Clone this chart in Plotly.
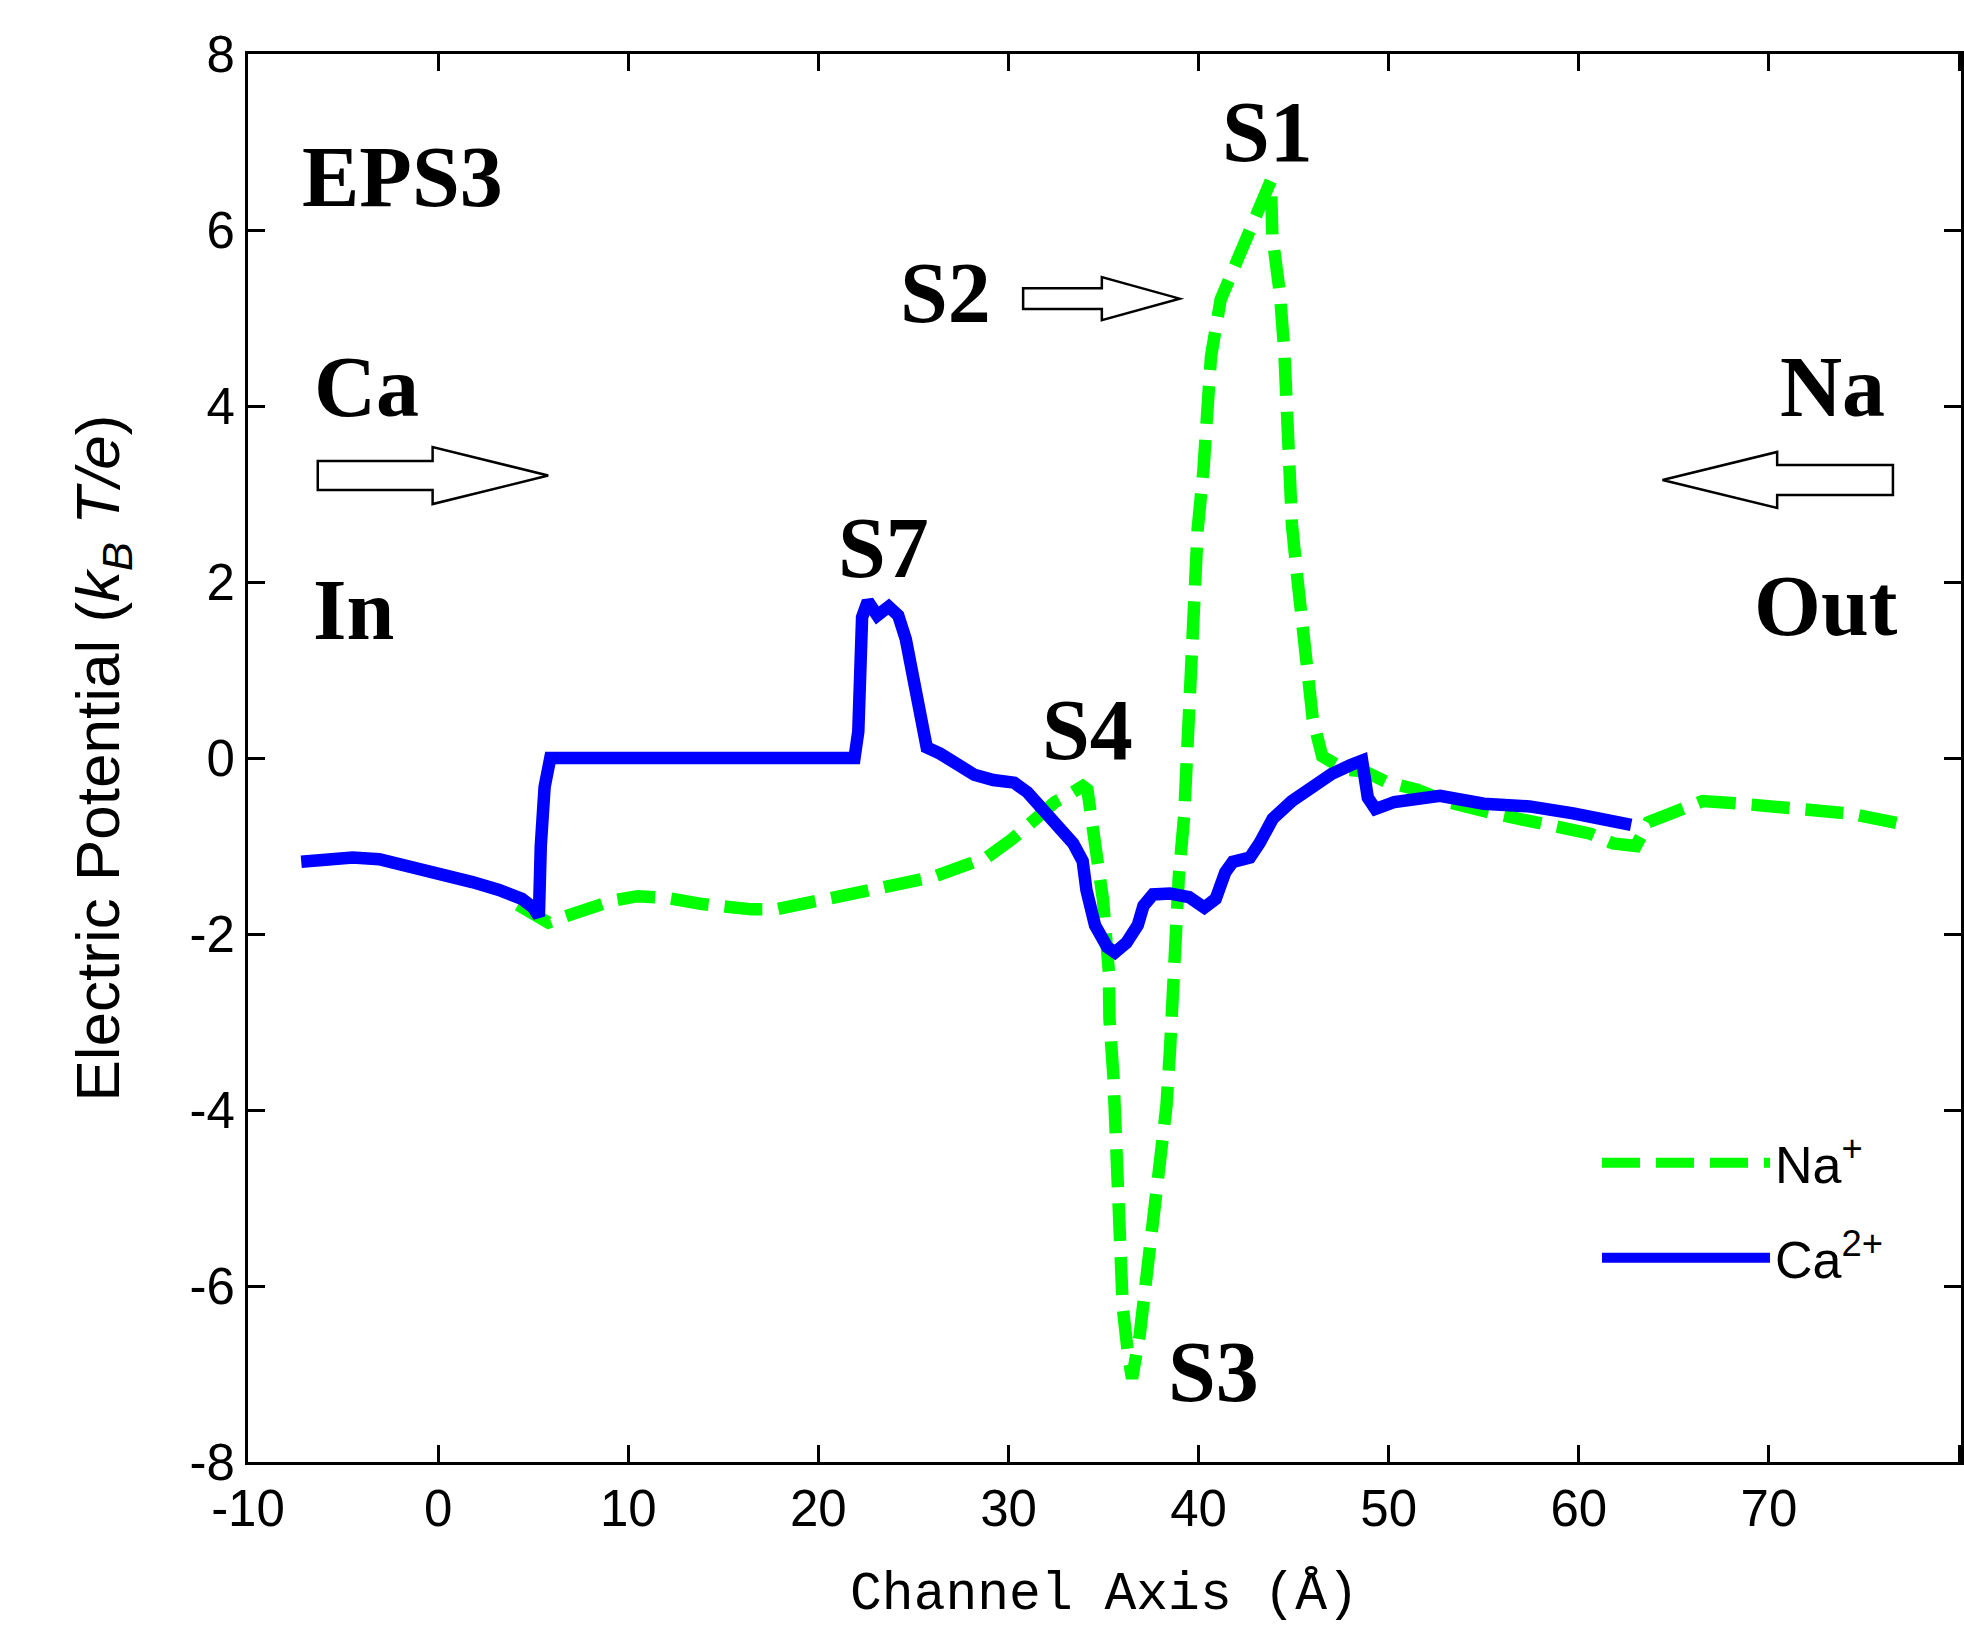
import plotly.graph_objects as go

# ---------------- data ----------------
na_x = [4.2, 4.9, 5.8, 6.4, 7.6, 9.2, 10.5, 12.05, 13.9, 15.0, 16.5, 17.75, 19.0, 20.5,
        23.2, 26.06, 28.87, 30.2, 31.58, 32.45, 33.3, 33.9, 34.15, 34.56, 34.97, 35.28,
        35.31, 35.52, 35.61, 35.78, 35.85, 36.01, 36.3, 36.5, 36.9, 37.26, 37.66, 38.07,
        38.31, 38.5, 38.66, 38.73, 38.96, 39.24, 39.36, 39.43, 39.55, 39.71, 39.95, 40.25,
        40.46, 40.65, 41.16, 42.33, 43.3, 43.8, 43.88, 44.28, 44.51, 44.62, 44.75, 44.91,
        45.22, 45.5, 45.73, 46.0, 46.5, 47.66, 48.7, 49.86, 51.5, 53.1, 55.5, 57.8, 60.6,
        61.8, 63.0, 63.66, 64.85, 66.5, 68.6, 71.4, 74.2, 77.25]
na_y = [-1.67, -1.76, -1.87, -1.82, -1.72, -1.62, -1.57, -1.59, -1.66, -1.69, -1.72, -1.72, -1.67, -1.60,
        -1.48, -1.35, -1.13, -0.92, -0.64, -0.50, -0.40, -0.32, -0.36, -1.0, -1.61, -2.43,
        -2.96, -3.62, -4.28, -4.94, -5.58, -6.24, -6.80, -7.05, -6.56, -5.90, -5.26, -4.62,
        -3.95, -3.30, -2.66, -1.99, -1.34, -0.66, -0.02, 0.65, 1.28, 1.94, 2.60, 3.26,
        3.91, 4.56, 5.21, 5.85, 6.35, 6.56, 5.93, 5.27, 4.61, 3.95, 3.31, 2.65,
        1.99, 1.33, 0.78, 0.45, 0.02, -0.13, -0.15, -0.27, -0.36, -0.50, -0.63, -0.73, -0.86,
        -0.97, -1.0, -0.73, -0.64, -0.49, -0.52, -0.56, -0.63, -0.76]

ca_x = [-7.2, -6.2, -4.5, -3.1, -1.6, 0.0, 1.8, 3.2, 4.4, 5.0, 5.3, 5.4, 5.6, 5.9,
        21.9, 22.1, 22.3, 22.6, 23.1, 23.7, 24.2, 24.6, 25.0, 25.4, 25.7, 26.4, 27.3,
        28.2, 29.2, 30.3, 31.0, 31.75, 32.45, 33.4, 33.9, 34.1, 34.55, 35.2, 35.6, 36.2,
        36.8, 37.1, 37.6, 38.5, 39.5, 40.3, 40.9, 41.4, 41.8, 42.7, 43.2, 43.9, 44.9,
        46.0, 47.0, 48.0, 48.6, 48.9, 49.3, 50.3, 52.7, 55.0, 57.4, 59.7, 61.3, 62.75]
ca_y = [-1.18, -1.15, -1.13, -1.15, -1.22, -1.33, -1.41, -1.50, -1.60, -1.70, -1.80, -1.0, -0.33, 0.0,
        0.0, 0.3, 1.6, 1.78, 1.62, 1.72, 1.62, 1.35, 0.95, 0.45, 0.12, 0.05, -0.08,
        -0.19, -0.25, -0.28, -0.39, -0.56, -0.76, -0.97, -1.17, -1.5, -1.9, -2.15, -2.21, -2.1,
        -1.9, -1.68, -1.55, -1.54, -1.58, -1.70, -1.60, -1.30, -1.18, -1.13, -0.97, -0.69, -0.49,
        -0.32, -0.18, -0.08, -0.03, -0.45, -0.58, -0.50, -0.43, -0.52, -0.55, -0.63, -0.69, -0.76]

x_ticks = [-10, 0, 10, 20, 30, 40, 50, 60, 70, 80]
x_tick_text = ["-10", "0", "10", "20", "30", "40", "50", "60", "70", "80"]
y_ticks = [-8, -6, -4, -2, 0, 2, 4, 6, 8]
y_tick_text = ["-8", "-6", "-4", "-2", "0", "2", "4", "6", "8"]

label_text = ["EPS3", "Ca", "In", "S7", "S1", "S2", "S4", "S3", "Na", "Out"]
label_x = [-1.9, -3.76, -4.44, 23.42, 43.6, 26.67, 34.18, 40.79, 73.32, 73.0]
label_y = [6.6, 4.22, 1.68, 2.39, 7.11, 5.28, 0.32, -6.98, 4.22, 1.73]

# block arrows: tail x, tip x, centre y, body half-height, head half-height, head-base x
arrows = [
    (-6.33, 5.79, 3.21, 0.165, 0.324, -0.29),
    (30.77, 39.0, 5.22, 0.119, 0.244, 34.91),
    (76.52, 64.40, 3.16, 0.17, 0.318, 70.43),
]

GREEN = "#00FF00"
BLUE = "#0000FF"

fig = go.Figure()
fig.add_trace(go.Scatter(
    x=na_x, y=na_y, mode="lines", name="Na<sup>+</sup>",
    line=dict(color=GREEN, width=12.5, dash="38px,16px"),
    legend="legend"))
fig.add_trace(go.Scatter(
    x=ca_x, y=ca_y, mode="lines", name="Ca<sup>2+</sup>",
    line=dict(color=BLUE, width=12.5),
    legend="legend2"))

for t, x, y in zip(label_text, label_x, label_y):
    fig.add_annotation(x=x, y=y, xref="x", yref="y", text="<b>" + t + "</b>",
                       showarrow=False, xanchor="center", yanchor="middle",
                       font=dict(family="Liberation Serif, Times New Roman, serif",
                                 size=86, color="black"))

for tail, tip, yc, bh, hh, hb in arrows:
    path = (f"M{tail},{yc + bh} L{hb},{yc + bh} L{hb},{yc + hh} L{tip},{yc} "
            f"L{hb},{yc - hh} L{hb},{yc - bh} L{tail},{yc - bh} Z")
    fig.add_shape(type="path", path=path, xref="x", yref="y",
                  line=dict(color="black", width=2.5), fillcolor="white", layer="above")

tickfont = dict(family="Liberation Sans, Arial, sans-serif", size=51, color="black")
axis_common = dict(showline=True, linewidth=3, linecolor="black", mirror="ticks",
                   ticks="inside", ticklen=17, tickwidth=3, tickcolor="black",
                   showgrid=False, zeroline=False, tickfont=tickfont)

legend_font = dict(family="Liberation Sans, Arial, sans-serif", size=52, color="black")

fig.update_layout(
    width=1964, height=1634,
    margin=dict(l=248, r=0, t=54, b=172),
    paper_bgcolor="white", plot_bgcolor="white",
    xaxis=dict(range=[-10, 80.1], tickvals=x_ticks, ticktext=x_tick_text,
               title=dict(text="Channel Axis (Å)", standoff=36,
                          font=dict(family="Liberation Mono, Courier New, monospace",
                                    size=53, color="black")),
               **axis_common),
    yaxis=dict(range=[-8, 8], tickvals=y_ticks, ticktext=y_tick_text,
               title=dict(text="Electric Potential (<i>k</i><sub><i>B</i></sub> <i>T/e</i>)",
                          standoff=50,
                          font=dict(family="Liberation Sans, Arial, sans-serif",
                                    size=62, color="black")),
               **axis_common),
    legend=dict(x=0.7875, y=0.2124, xanchor="left", yanchor="middle",
                bgcolor="rgba(0,0,0,0)", itemwidth=168, font=legend_font),
    legend2=dict(x=0.7875, y=0.1449, xanchor="left", yanchor="middle",
                 bgcolor="rgba(0,0,0,0)", itemwidth=168, font=legend_font),
    showlegend=True,
)

fig.write_html("out.html")
